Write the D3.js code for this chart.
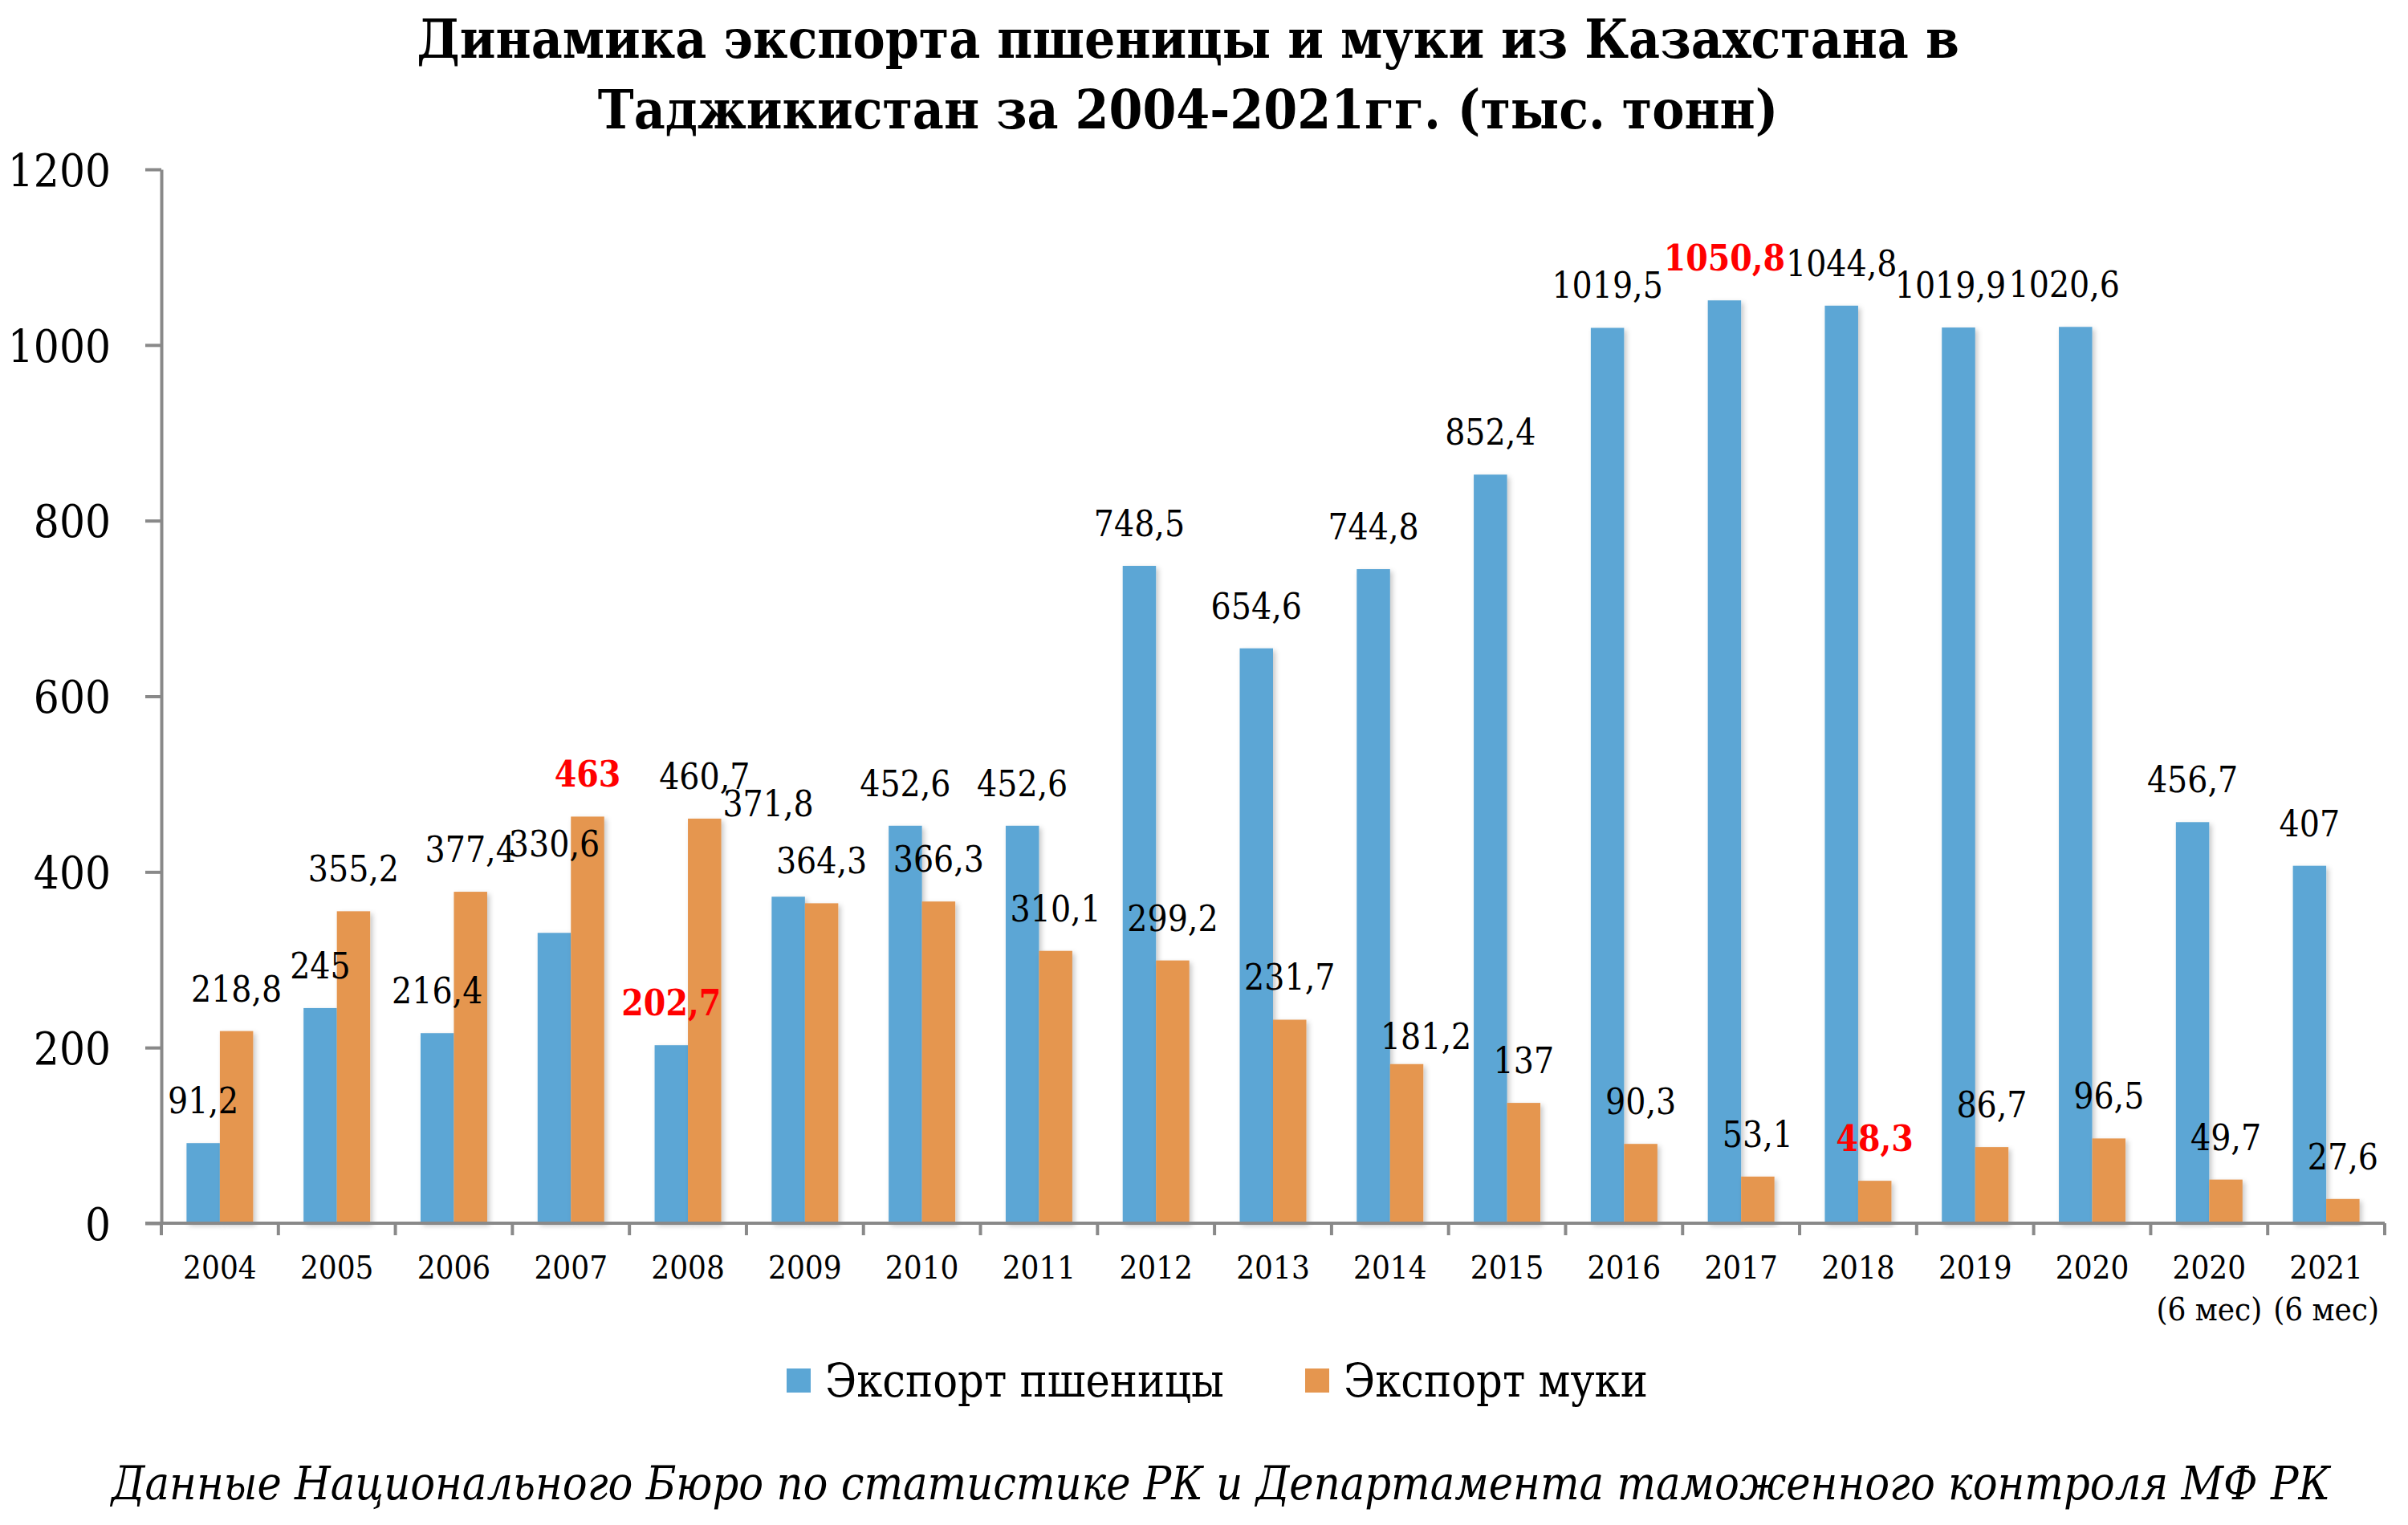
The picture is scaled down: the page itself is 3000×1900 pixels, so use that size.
<!DOCTYPE html>
<html>
<head>
<meta charset="utf-8">
<script src="https://cdn.jsdelivr.net/npm/d3@7"></script>
<style>
  html, body { margin: 0; padding: 0; background: #fff; }
  svg text { font-family: 'DejaVu Serif Condensed', 'DejaVu Serif', serif; font-stretch: condensed; }
</style>
</head>
<body>
<script>
// ---- data ----
const categories = ["2004","2005","2006","2007","2008","2009","2010","2011","2012","2013","2014","2015","2016","2017","2018","2019","2020","2020 (6 мес)","2021 (6 мес)"];
const wheat = [91.2, 245, 216.4, 330.6, 202.7, 371.8, 452.6, 452.6, 748.5, 654.6, 744.8, 852.4, 1019.5, 1050.8, 1044.8, 1019.9, 1020.6, 456.7, 407];
const flour = [218.8, 355.2, 377.4, 463, 460.7, 364.3, 366.3, 310.1, 299.2, 231.7, 181.2, 137, 90.3, 53.1, 48.3, 86.7, 96.5, 49.7, 27.6];
const yTicks = [0, 200, 400, 600, 800, 1000, 1200];
const seriesNames = ["Экспорт пшеницы", "Экспорт муки"];
const titleLines = ["Динамика экспорта пшеницы и муки из Казахстана в", "Таджикистан за 2004-2021гг. (тыс. тонн)"];
const footer = "Данные Национального Бюро по статистике РК и Департамента таможенного контроля МФ РК";
// highlighted (red bold) labels: [series, category]
const highlights = [["wheat","2008"],["wheat","2017"],["flour","2007"],["flour","2018"]];
// manual label nudges (px) as in the original layout
const labelNudge = {"wheat|2007": [0, -58], "wheat|2009": [-25, -63], "flour|2014": [24, 18], "wheat|2019": [-10, 0], "wheat|2020": [-14, 0]};

const colors = {wheat: "#5ba6d5", flour: "#e5964f"};
const W = 3000, H = 1900;
const svg = d3.select("body").append("svg").attr("width", W).attr("height", H).attr("viewBox", `0 0 ${W} ${H}`);

const defs = svg.append("defs");
const f = defs.append("filter").attr("id", "sh").attr("x", "-20%").attr("y", "-5%").attr("width", "150%").attr("height", "115%");
f.append("feDropShadow").attr("dx", 3).attr("dy", 3).attr("stdDeviation", 3).attr("flood-color", "#000").attr("flood-opacity", 0.22);

const plot = {left: 201, right: 2971, top: 211, bottom: 1524};
const x = d3.scaleBand().domain(categories).range([plot.left, plot.right]).padding(0);
const xs = d3.scaleBand().domain(["wheat","flour"]).range([0, x.bandwidth()]).paddingInner(0).paddingOuter(0.757);
const y = d3.scaleLinear().domain([0, 1200]).range([plot.bottom, plot.top]);

const rows = categories.map((c, i) => ({cat: c, wheat: wheat[i], flour: flour[i]}));

// bars
const g = svg.append("g");
["wheat","flour"].forEach(s => {
  g.selectAll("rect." + s).data(rows).enter().append("rect")
    .attr("class", s)
    .attr("x", d => x(d.cat) + xs(s))
    .attr("y", d => y(d[s]))
    .attr("width", xs.bandwidth())
    .attr("height", d => y(0) - y(d[s]))
    .attr("fill", colors[s])
    .attr("filter", "url(#sh)");
});

// axes
const axisColor = "#898989";
const yAxis = svg.append("g").attr("transform", `translate(${plot.left},0)`)
  .call(d3.axisLeft(y).tickValues(yTicks).tickSize(20).tickSizeOuter(0).tickPadding(43).tickFormat(d3.format("d")));
yAxis.selectAll("path, line").attr("stroke", axisColor).attr("stroke-width", 4);
yAxis.selectAll("text").attr("font-size", 56).attr("fill", "#000").attr("dy", "0.36em");

const xAxisG = svg.append("g");
xAxisG.append("line").attr("x1", plot.left - 20).attr("x2", plot.right).attr("y1", y(0)).attr("y2", y(0))
  .attr("stroke", axisColor).attr("stroke-width", 4);
const bounds = categories.map(c => x(c)).concat([x.range()[1]]);
xAxisG.selectAll("line.tk").data(bounds).enter().append("line").attr("class", "tk")
  .attr("x1", d => d).attr("x2", d => d).attr("y1", y(0)).attr("y2", y(0) + 15)
  .attr("stroke", axisColor).attr("stroke-width", 4);
const xl = xAxisG.selectAll("text.xl").data(categories).enter().append("text").attr("class", "xl")
  .attr("text-anchor", "middle").attr("font-size", 40).attr("fill", "#000");
xl.each(function(c) {
  const parts = c.indexOf(" ") > 0 ? [c.slice(0, c.indexOf(" ")), c.slice(c.indexOf(" ") + 1)] : [c];
  const t = d3.select(this);
  parts.forEach((p, k) => t.append("tspan").attr("x", x(c) + x.bandwidth() / 2).attr("y", 1593 + k * 52).text(p));
});

// data labels
const fmt = v => String(v).replace(".", ",");
const isHi = (s, c) => highlights.some(h => h[0] === s && h[1] === c);
["wheat","flour"].forEach(s => {
  svg.selectAll("text.lb-" + s).data(rows).enter().append("text")
    .attr("class", "lb-" + s)
    .attr("text-anchor", "middle")
    .attr("font-size", 44)
    .attr("x", d => x(d.cat) + xs(s) + xs.bandwidth() / 2 + (labelNudge[s + "|" + d.cat] || [0,0])[0])
    .attr("y", d => y(d[s]) - 37 + (labelNudge[s + "|" + d.cat] || [0,0])[1])
    .attr("fill", d => isHi(s, d.cat) ? "#ff0000" : "#000")
    .attr("font-weight", d => isHi(s, d.cat) ? "bold" : "normal")
    .text(d => fmt(d[s]));
});

// title
svg.append("text").attr("text-anchor", "middle").attr("font-size", 67).attr("font-weight", "bold").attr("fill", "#000")
  .selectAll("tspan").data(titleLines).enter().append("tspan")
  .attr("x", 1480).attr("y", (d, i) => 72 + i * 88).text(d => d);

// legend
const legend = svg.append("g");
const legendItems = [{s: "wheat", name: seriesNames[0], sx: 980}, {s: "flour", name: seriesNames[1], sx: 1626}];
legendItems.forEach(it => {
  legend.append("rect").attr("x", it.sx).attr("y", 1705).attr("width", 30).attr("height", 30).attr("fill", colors[it.s]);
  legend.append("text").attr("x", it.sx + 48).attr("y", 1740).attr("font-size", 57).attr("fill", "#000").text(it.name);
});

// footer
svg.append("text").attr("x", 1521).attr("y", 1868).attr("text-anchor", "middle").attr("font-size", 57)
  .attr("font-style", "italic").attr("fill", "#000").text(footer);
</script>
</body>
</html>
